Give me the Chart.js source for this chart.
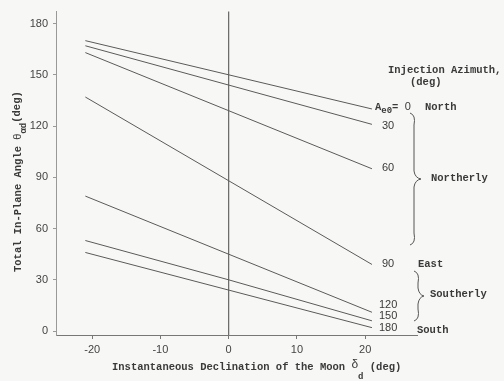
<!DOCTYPE html>
<html>
<head>
<meta charset="utf-8">
<script src="https://cdn.jsdelivr.net/npm/chart.js@4"></script>
<style>
  html, body { margin: 0; padding: 0; background: #f7f7f5; }
  #wrap { width: 504px; height: 381px; position: relative; }
</style>
</head>
<body>
<div id="wrap"><canvas id="graph" width="504" height="381"></canvas></div>
<script>
// declination of the moon (deg) where each curve was read
const declination = [-21, 0, 21];

// total in-plane angle (deg) for each injection azimuth
const azimuth0   = [170, 150, 130];
const azimuth30  = [167, 144, 121];
const azimuth60  = [163, 129, 95];
const azimuth90  = [137, 88, 39];
const azimuth120 = [79, 45, 11];
const azimuth150 = [53, 30, 6];
const azimuth180 = [46, 24, 2];

const xTicks = [-20, -10, 0, 10, 20];
const yTicks = [0, 30, 60, 90, 120, 150, 180];

const lineColor = '#5a5a5a';
const textColor = '#3a3a3a';
const monoFont = '"Liberation Mono", "DejaVu Sans Mono", monospace';
const tickFont = '"Liberation Sans", Arial, sans-serif';

function toPoints(values) {
  return declination.map((d, i) => ({x: d, y: values[i]}));
}

const allSeries = [azimuth0, azimuth30, azimuth60, azimuth90, azimuth120, azimuth150, azimuth180];
const datasets = allSeries.map(s => ({
  data: toPoints(s),
  borderColor: lineColor,
  borderWidth: 1,
  pointRadius: 0,
  tension: 0
}));

// vertical reference line at zero declination
datasets.push({
  data: [{x: 0, y: -5}, {x: 0, y: 195}],
  borderColor: '#666',
  borderWidth: 1.2,
  pointRadius: 0
});

// text with a subscript, drawn left to right from (x, y)
function drawSub(ctx, parts, x, y) {
  let cx = x;
  for (const p of parts) {
    ctx.font = p.font;
    ctx.fillText(p.text, cx, y + (p.dy || 0));
    cx += ctx.measureText(p.text).width;
  }
}

// brace from (x, y0) to (x, y1) with its point at pointX
function drawBrace(ctx, x, y0, y1, pointX) {
  const mid = (y0 + y1) / 2;
  ctx.beginPath();
  ctx.moveTo(x - 4, y0);
  ctx.quadraticCurveTo(x + 2, y0 + 2, x, y0 + 12);
  ctx.lineTo(x, mid - 8);
  ctx.quadraticCurveTo(x + 1, mid - 1, pointX, mid);
  ctx.quadraticCurveTo(x + 1, mid + 1, x, mid + 8);
  ctx.lineTo(x, y1 - 12);
  ctx.quadraticCurveTo(x + 2, y1 - 2, x - 4, y1);
  ctx.stroke();
}

const labelsPlugin = {
  id: 'labels',
  afterDraw(chart) {
    const ctx = chart.ctx;
    const mono = 'bold 10.5px ' + monoFont;
    const monoSmall = 'bold 9px ' + monoFont;
    const num = '11px ' + tickFont;
    ctx.save();
    ctx.fillStyle = textColor;
    ctx.strokeStyle = '#555';
    ctx.lineWidth = 1;
    ctx.textBaseline = 'middle';
    ctx.textAlign = 'left';

    // x axis title
    drawSub(ctx, [
      {text: 'Instantaneous Declination of the Moon ', font: mono},
      {text: 'δ', font: '12px ' + tickFont, dy: -2},
      {text: 'd', font: monoSmall, dy: 10},
      {text: ' (deg)', font: mono}
    ], 112, 367);

    // y axis title
    ctx.save();
    ctx.translate(18, 272);
    ctx.rotate(-Math.PI / 2);
    drawSub(ctx, [
      {text: 'Total In-Plane Angle ', font: mono},
      {text: 'θ', font: '11px ' + tickFont},
      {text: 'αd', font: monoSmall, dy: 6},
      {text: '(deg)', font: mono, dy: -1}
    ], 0, 0);
    ctx.restore();

    // legend heading
    ctx.font = mono;
    ctx.fillText('Injection Azimuth,', 388, 70);
    ctx.fillText('(deg)', 410, 82);

    // curve labels
    drawSub(ctx, [
      {text: 'A', font: mono},
      {text: 'e0', font: monoSmall, dy: 4},
      {text: '= ', font: mono},
      {text: '0', font: num}
    ], 375, 107);
    ctx.font = mono;
    ctx.fillText('North', 425, 107);

    ctx.font = num;
    ctx.fillText('30', 382, 126);
    ctx.fillText('60', 382, 168);
    ctx.fillText('90', 382, 264);
    ctx.fillText('120', 379, 305);
    ctx.fillText('150', 379, 316);
    ctx.fillText('180', 379, 328);

    ctx.font = mono;
    ctx.fillText('Northerly', 431, 178);
    ctx.fillText('East', 418, 264);
    ctx.fillText('Southerly', 430, 294);
    ctx.fillText('South', 417, 330);

    drawBrace(ctx, 414, 113, 245, 421);
    drawBrace(ctx, 418, 271, 321, 424);
    ctx.restore();
  }
};

new Chart(document.getElementById('graph'), {
  type: 'line',
  data: {datasets: datasets},
  options: {
    responsive: false,
    animation: false,
    layout: {padding: {top: 8, right: 87, left: 0, bottom: 0}},
    plugins: {
      legend: {display: false},
      tooltip: {enabled: false}
    },
    scales: {
      x: {
        type: 'linear',
        min: -25.3,
        max: 27.6,
        afterBuildTicks: axis => { axis.ticks = xTicks.map(v => ({value: v})); },
        afterFit: axis => { axis.height = 46; },
        border: {color: '#777', width: 1},
        grid: {drawOnChartArea: false, tickLength: 4, color: '#777'},
        ticks: {
          color: '#444',
          padding: 4,
          maxRotation: 0,
          font: {family: tickFont, size: 11}
        }
      },
      y: {
        type: 'linear',
        min: -2.3,
        max: 187,
        afterBuildTicks: axis => { axis.ticks = yTicks.map(v => ({value: v})); },
        afterFit: axis => { axis.width = 56; },
        border: {color: '#999', width: 1},
        grid: {drawOnChartArea: false, tickLength: 3, color: '#999'},
        ticks: {
          color: '#444',
          padding: 5,
          font: {family: tickFont, size: 11}
        }
      }
    }
  },
  plugins: [labelsPlugin]
});
</script>
</body>
</html>
